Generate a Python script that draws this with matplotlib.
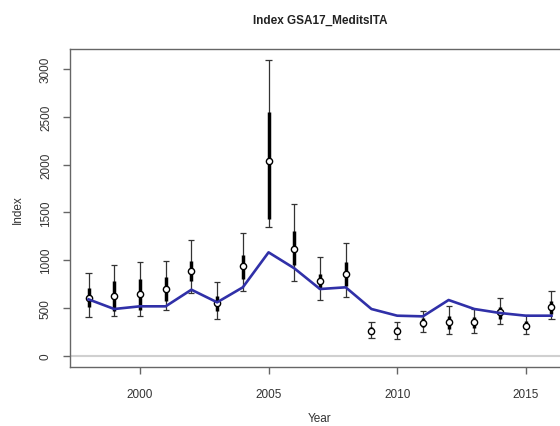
import numpy as np
import matplotlib
matplotlib.use("Agg")
import matplotlib.pyplot as plt

plt.rcParams['font.family'] = ['Liberation Sans', 'DejaVu Sans']

# --- values ---
years = np.arange(1998, 2017)
index_val = [601, 628, 642, 695, 890, 548, 935, 2040, 1117, 779, 855,
             262, 259, 342, 349, 349, 454, 314, 507]
ci_lo = [408, 412, 412, 478, 656, 384, 680, 1344, 782, 583, 611,
         185, 175, 245, 227, 234, 332, 227, 384]
ci_hi = [862, 949, 977, 995, 1215, 768, 1284, 3090, 1590, 1037, 1180,
         356, 356, 471, 517, 489, 601, 429, 680]
q_lo = [507, 471, 482, 576, 785, 471, 803, 1431, 949, 698, 733,
        230, 225, 300, 280, 290, 384, 280, 437]
q_hi = [705, 785, 803, 820, 995, 628, 1054, 2548, 1309, 855, 977,
        300, 300, 390, 419, 410, 507, 360, 576]
fitted = [590, 489, 517, 517, 691, 559, 716, 1082, 915, 698, 716,
          489, 419, 412, 583, 489, 447, 419, 419]

xticks = [2000, 2005, 2010, 2015]
yticks = [0, 500, 1000, 1500, 2000, 2500, 3000]

W, H = 560, 427
fig = plt.figure(figsize=(W / 100, H / 100), dpi=100)
# axes box runs past the right edge of the picture, as in the reference
ax = fig.add_axes([70 / W, 1 - 368 / H, 500 / W, 318 / H])

ax.axhline(0, color='#d0d0d0', lw=1.5, zorder=1)

ax.vlines(years, ci_lo, ci_hi, color='#333333', lw=0.9, zorder=2)
cap = 0.12
ax.hlines(ci_lo, years - cap, years + cap, color='#333333', lw=0.9, zorder=2)
ax.hlines(ci_hi, years - cap, years + cap, color='#333333', lw=0.9, zorder=2)
ax.vlines(years, q_lo, q_hi, color='black', lw=2.5, zorder=3)
ax.plot(years, index_val, 'o', ms=4.5, mfc='white', mec='black', mew=1.0, zorder=4)
ax.plot(years, fitted, color='#3030a8', lw=1.9, zorder=5)

ax.set_xlim(1997.28, 2016.72)
ax.set_ylim(-118, 3210)
ax.set_xticks(xticks)
ax.set_yticks(yticks)
ax.set_yticklabels([str(v) for v in yticks], rotation=90, va='center')

for s in ax.spines.values():
    s.set_color('#666666')
    s.set_linewidth(1.0)
ax.spines['right'].set_visible(False)
ax.tick_params(axis='both', colors='#666666', labelcolor='#333333',
               labelsize=8.5, length=5, width=1.0)
ax.tick_params(axis='x', pad=10)
ax.tick_params(axis='y', pad=8)

fig.text(320 / W, 1 - 21 / H, 'Index GSA17_MeditsITA', ha='center', va='center',
         fontsize=8.5, fontweight='bold', color='#222222')
fig.text(320 / W, 1 - 419 / H, 'Year', ha='center', va='center',
         fontsize=8.5, color='#333333')
fig.text(18 / W, 1 - 210 / H, 'Index', ha='center', va='center', rotation=90,
         fontsize=8.5, color='#333333')

fig.savefig('out.png', dpi=100)
